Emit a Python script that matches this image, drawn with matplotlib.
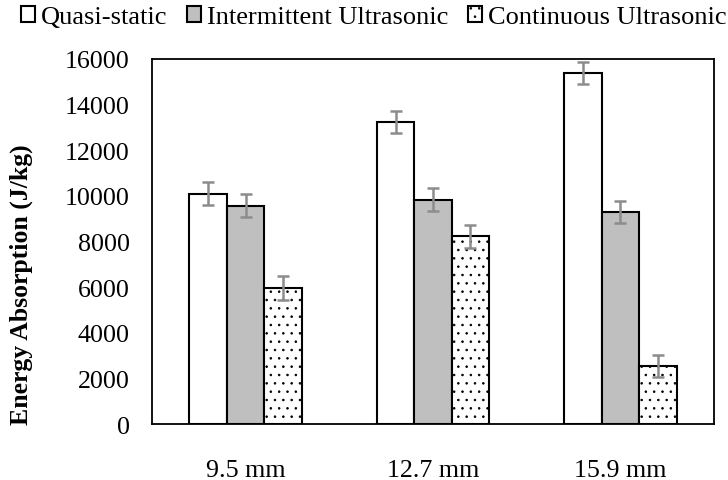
import numpy as np
import matplotlib.pyplot as plt

plt.rcParams['font.family'] = ['Liberation Serif', 'DejaVu Serif']
plt.rcParams['hatch.linewidth'] = 0.6

# data
sizes = ['9.5 mm', '12.7 mm', '15.9 mm']
series = ['Quasi-static', 'Intermittent Ultrasonic', 'Continuous Ultrasonic']
quasi = [10100, 13250, 15390]
inter = [9570, 9840, 9310]
cont = [5950, 8220, 2540]
quasi_err = [500, 480, 480]
inter_err = [500, 520, 480]
cont_err = [530, 520, 500]

fig = plt.figure(figsize=(7.28, 4.81), dpi=100)
ax = fig.add_axes([0.2088, 0.1164, 0.7720, 0.7589])

x = np.arange(len(sizes))
w = 0.2
faces = ['white', '#bfbfbf', 'white']
hatches = [None, None, '..']
vals = [quasi, inter, cont]
errs = [quasi_err, inter_err, cont_err]

for i in range(3):
    ax.bar(x + (i - 1) * w, vals[i], w, yerr=errs[i], label=series[i],
           edgecolor='black', linewidth=1.5, facecolor=faces[i], hatch=hatches[i],
           error_kw=dict(ecolor='#8c8c8c', elinewidth=1.8, capsize=4, capthick=1.8))

ax.set_xlim(-0.5, 2.5)
ax.set_ylim(0, 16000)
ax.set_yticks(np.arange(0, 16001, 2000))
ax.set_xticks(x)
ax.set_xticklabels(sizes)
ax.tick_params(length=0, labelsize=18.7)
ax.tick_params(axis='x', pad=25)
ax.tick_params(axis='y', pad=16)
for s in ax.spines.values():
    s.set_linewidth(1.3)

fig.text(21 / 728, 1 - 285 / 481, 'Energy Absorption (J/kg)', rotation=90,
         ha='center', va='center', fontsize=18.5, fontweight='bold')

fig.legend(loc='upper center', bbox_to_anchor=(0.513, 1.035), ncol=3, frameon=False,
           fontsize=19, handlelength=0.55, handleheight=0.55, handletextpad=0.2,
           columnspacing=0.75)

fig.savefig('out.png', dpi=100)
